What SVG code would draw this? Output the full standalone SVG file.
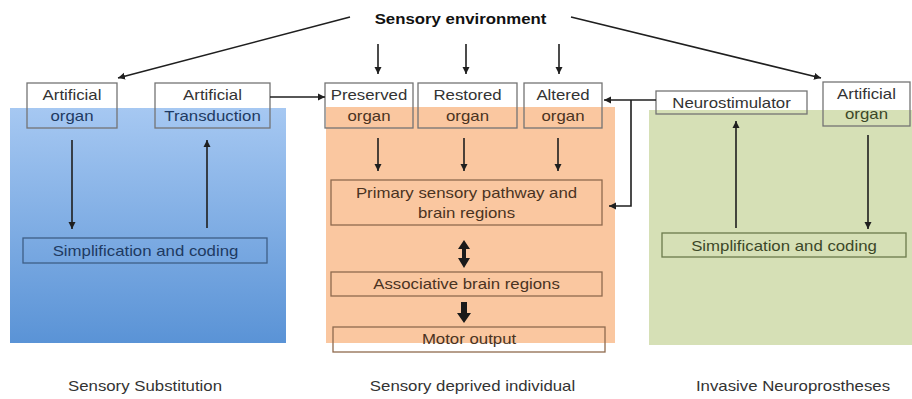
<svg xmlns="http://www.w3.org/2000/svg" width="912" height="399" viewBox="0 0 912 399">
<style>
  text { font-family: "Liberation Sans", Arial, sans-serif; font-size: 14px; text-anchor: middle; fill: #333; }
  .bold { font-weight: bold; fill: #111; }
  .tb { fill: #1e3a62; }
  .to { fill: #4a3322; }
  .tg { fill: #3c4828; }
  .box { fill: none; stroke: #747474; stroke-width: 1.3; }
  .boxo { fill: none; stroke: #8f6a4e; stroke-width: 1.3; }
  .boxb { fill: none; stroke: #3e5e86; stroke-width: 1.3; }
  .boxg { fill: none; stroke: #6b7a4c; stroke-width: 1.3; }
  .ln { fill: none; stroke: #1f1f1f; stroke-width: 1.6; }
  .arr { marker-end: url(#ah); }
  .thick { fill: #1a1a1a; }
</style>
<defs>
  <linearGradient id="blueGrad" x1="0" y1="0" x2="0" y2="1">
    <stop offset="0" stop-color="#a6c8f2"/>
    <stop offset="1" stop-color="#5a93d6"/>
  </linearGradient>
  <marker id="ah" markerUnits="userSpaceOnUse" markerWidth="8" markerHeight="8" viewBox="-7 -4 8 8" refX="0" refY="0" orient="auto">
    <path d="M-7,-3.5 L0,0 L-7,3.5 z" fill="#1f1f1f"/>
  </marker>
</defs>

<rect width="912" height="399" fill="#ffffff"/>

<!-- Panels -->
<g id="panels">
  <rect id="panel-blue" x="10" y="108" width="276" height="235" fill="url(#blueGrad)"/>
  <rect id="panel-orange" x="326" y="107" width="289" height="236" fill="#fac7a0"/>
  <rect id="panel-green" x="649" y="110" width="263" height="235" fill="#d6e0b6"/>
</g>

<!-- Title -->
<g id="sensory-environment">
  <text class="bold" transform="matrix(1.2 0 0 1 460.5 24)">Sensory environment</text>
</g>

<!-- Left: Sensory substitution -->
<g id="artificial-organ-left">
  <rect class="box" x="27" y="83" width="90" height="45"/>
  <text transform="matrix(1.2 0 0 1 72 100)">Artificial</text>
  <text class="tb" transform="matrix(1.2 0 0 1 72 121)">organ</text>
</g>
<g id="artificial-transduction">
  <rect class="box" x="155" y="83" width="115" height="45"/>
  <text transform="matrix(1.2 0 0 1 212.5 100)">Artificial</text>
  <text class="tb" transform="matrix(1.2 0 0 1 212.5 121)">Transduction</text>
</g>
<g id="simplification-left">
  <rect class="boxb" x="23" y="238" width="244" height="25"/>
  <text class="tb" transform="matrix(1.2 0 0 1 145.5 256)">Simplification and coding</text>
</g>

<!-- Middle: Sensory deprived individual -->
<g id="preserved-organ">
  <rect class="box" x="325" y="83" width="88" height="45"/>
  <text transform="matrix(1.2 0 0 1 369 100)">Preserved</text>
  <text class="to" transform="matrix(1.2 0 0 1 369 121)">organ</text>
</g>
<g id="restored-organ">
  <rect class="box" x="418" y="83" width="99" height="45"/>
  <text transform="matrix(1.2 0 0 1 467.5 100)">Restored</text>
  <text class="to" transform="matrix(1.2 0 0 1 467.5 121)">organ</text>
</g>
<g id="altered-organ">
  <rect class="box" x="524" y="83" width="78" height="45"/>
  <text transform="matrix(1.2 0 0 1 563 100)">Altered</text>
  <text class="to" transform="matrix(1.2 0 0 1 563 121)">organ</text>
</g>
<g id="primary-sensory">
  <rect class="boxo" x="331" y="180" width="271" height="45"/>
  <text class="to" transform="matrix(1.2 0 0 1 466.5 198)">Primary sensory pathway and</text>
  <text class="to" transform="matrix(1.2 0 0 1 466.5 218)">brain regions</text>
</g>
<g id="associative">
  <rect class="boxo" x="331" y="272" width="271" height="24"/>
  <text class="to" transform="matrix(1.2 0 0 1 466.5 289)">Associative brain regions</text>
</g>
<g id="motor-output">
  <rect class="boxo" x="333" y="327" width="272" height="25"/>
  <text class="to" transform="matrix(1.2 0 0 1 469 344)">Motor output</text>
</g>

<!-- Right: Invasive neuroprostheses -->
<g id="neurostimulator">
  <rect class="box" x="656" y="91" width="151" height="23"/>
  <text transform="matrix(1.2 0 0 1 731.5 108)">Neurostimulator</text>
</g>
<g id="artificial-organ-right">
  <rect class="box" x="823" y="82" width="87" height="44"/>
  <text transform="matrix(1.2 0 0 1 866.5 99)">Artificial</text>
  <text class="tg" transform="matrix(1.2 0 0 1 866.5 119)">organ</text>
</g>
<g id="simplification-right">
  <rect class="boxg" x="662" y="233" width="244" height="24"/>
  <text class="tg" transform="matrix(1.2 0 0 1 784 251)">Simplification and coding</text>
</g>

<!-- Connectors -->
<g id="connectors">
  <line class="ln arr" x1="350" y1="17" x2="118" y2="78"/>
  <line class="ln arr" x1="571" y1="17" x2="821" y2="78"/>
  <line class="ln arr" x1="378" y1="44" x2="378" y2="74"/>
  <line class="ln arr" x1="466" y1="44" x2="466" y2="74"/>
  <line class="ln arr" x1="559" y1="44" x2="559" y2="74"/>
  <line class="ln arr" x1="270" y1="97" x2="325" y2="97"/>
  <line class="ln arr" x1="656" y1="100" x2="604" y2="100"/>
  <polyline class="ln arr" points="631,100 631,206 609,206"/>
  <line class="ln arr" x1="378" y1="138" x2="378" y2="171"/>
  <line class="ln arr" x1="464" y1="138" x2="464" y2="171"/>
  <line class="ln arr" x1="558" y1="138" x2="558" y2="171"/>
  <line class="ln arr" x1="72" y1="140" x2="72" y2="229"/>
  <line class="ln arr" x1="207" y1="228" x2="207" y2="140"/>
  <line class="ln arr" x1="736" y1="228" x2="736" y2="121"/>
  <line class="ln arr" x1="868" y1="135" x2="868" y2="229"/>
  <path class="thick" d="M464,240 L470,249 L466,249 L466,258 L470,258 L464,268 L458,258 L462,258 L462,249 L458,249 z"/>
  <path class="thick" d="M461,302 L467,302 L467,313 L471,313 L464,323 L457,313 L461,313 z"/>
</g>

<!-- Panel labels -->
<g id="labels">
  <text transform="matrix(1.2 0 0 1 145 391)">Sensory Substitution</text>
  <text transform="matrix(1.2 0 0 1 472.5 391)">Sensory deprived individual</text>
  <text transform="matrix(1.2 0 0 1 793 391)">Invasive Neuroprostheses</text>
</g>
</svg>
